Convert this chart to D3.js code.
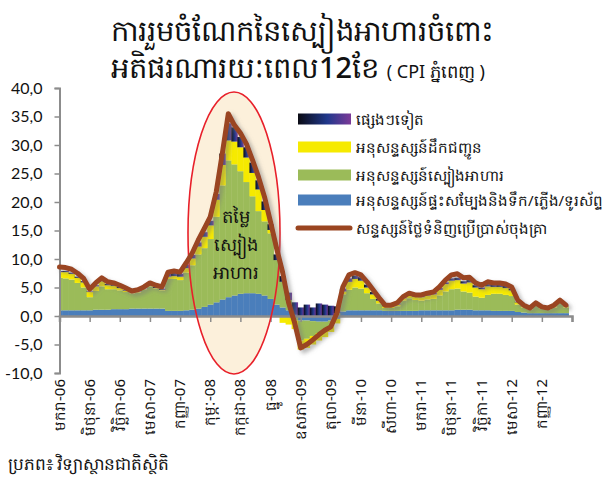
<!DOCTYPE html>
<html>
<head>
<meta charset="utf-8">
<script src="https://cdn.jsdelivr.net/npm/d3@7"></script>
<style>
  body { margin: 0; background: #fff; }
  svg { display: block; font-family: "Noto Sans", "DejaVu Sans", sans-serif; }
  .yAxis text { font-family: Lato, "Open Sans", sans-serif; }
</style>
</head>
<body>
<svg id="chart" width="603" height="482"></svg>
<script>
/*
  Food contribution to 12-month inflation (Phnom Penh CPI)
  stacked monthly contributions + headline line, Jan 2006 .. Jan 2013
*/

// x tick labels, one every 5 months starting Jan-06
const tickLabels = [
  'មករា-06', 'មិថុនា-06', 'វិច្ឆិកា-06', 'មេសា-07', 'កញ្ញា-07', 'កុម្ភៈ-08',
  'កក្កដា-08', 'ធ្នូ-08', 'ឧសភា-09', 'តុលា-09', 'មីនា-10', 'សីហា-10',
  'មករា-11', 'មិថុនា-11', 'វិច្ឆិកា-11', 'មេសា-12', 'កញ្ញា-12'
];

const yTicks = [40, 35, 30, 25, 20, 15, 10, 5, 0, -5, -10];

// headline CPI, 12 month change (%)
const headline = [
  8.6, 8.5, 8.2, 7.5, 6.6, 4.7, 5.8, 6.7, 6.0, 5.8, 5.4, 4.9,
  4.4, 4.6, 5.1, 5.8, 5.4, 5.1, 7.7, 7.9, 7.7, 9.3, 11.0, 13.3,
  15.3, 17.4, 21.8, 28.5, 35.5, 33.5, 32.1, 30.2, 27.4, 24.4, 20.9, 16.5,
  11.9, 7.7, 2.3, -1.2, -5.6, -5.0, -4.2, -3.3, -2.5, -1.9, 0.5, 5.1,
  7.2, 7.6, 7.2, 6.0, 4.6, 3.2, 1.9, 1.9, 2.3, 3.4, 4.0, 3.7,
  3.7, 4.0, 4.2, 5.1, 6.3, 7.2, 7.4, 6.7, 6.8, 5.8, 5.4, 6.0,
  5.8, 5.8, 5.6, 5.1, 2.8, 1.9, 1.4, 2.3, 1.6, 1.4, 1.9, 2.8, 1.9
];

// contribution of housing / water / electricity / telephone
const housing = [
  1.0, 1.0, 1.0, 1.0, 1.0, 1.0, 1.1, 1.1, 1.1, 1.2, 1.2, 1.2,
  1.3, 1.3, 1.3, 1.3, 1.3, 1.3, 0.9, 0.9, 0.9, 1.0, 1.1, 1.3,
  1.6, 2.0, 2.4, 2.9, 3.3, 3.6, 3.9, 4.0, 4.0, 3.9, 3.6, 3.0,
  2.0, 1.5, 1.0, 0.2, -0.8, -0.8, -0.9, -1.0, -1.0, -0.8, -0.5, 0.8,
  1.0, 1.0, 1.0, 1.0, 1.0, 1.0, 0.9, 0.9, 0.9, 0.9, 0.9, 0.9,
  1.0, 1.0, 1.0, 1.0, 1.0, 1.0, 1.1, 1.1, 1.1, 1.0, 1.0, 1.0,
  0.9, 0.9, 0.9, 0.9, 0.7, 0.6, 0.5, 0.5, 0.5, 0.5, 0.5, 0.5, 0.5
];

// contribution of food
const food = [
  5.7, 5.6, 5.4, 4.8, 4.0, 2.3, 3.3, 4.1, 3.6, 3.5, 3.3, 3.0,
  2.6, 2.8, 3.3, 3.9, 3.5, 3.2, 5.6, 5.6, 5.4, 6.6, 7.8, 9.5,
  10.3, 11.5, 15.0, 20.0, 24.0, 23.0, 21.5, 19.5, 17.0, 14.5, 13.0, 11.5,
  7.8, 4.5, 1.8, -0.8, -3.5, -3.2, -2.6, -2.0, -1.5, -1.0, 0.5, 3.0,
  3.6, 4.0, 3.8, 3.0, 2.0, 1.2, 0.5, 0.5, 0.8, 1.8, 2.2, 1.9,
  1.7, 1.9, 2.0, 2.6, 3.3, 3.7, 3.7, 3.2, 3.0, 2.4, 2.2, 2.7,
  3.0, 3.0, 2.8, 2.6, 1.3, 0.9, 0.6, 1.3, 0.8, 0.6, 1.0, 1.8, 1.0
];

// contribution of transport
const transport = [
  1.0, 1.1, 1.0, 0.9, 0.9, 0.9, 0.8, 0.9, 0.7, 0.6, 0.4, 0.2,
  0.1, 0.1, 0.1, 0.1, 0.1, 0.1, 0.4, 0.5, 0.6, 0.8, 1.2, 1.4,
  2.0, 2.4, 3.0, 3.6, 3.5, 4.0, 4.2, 4.3, 4.1, 3.8, 2.0, 0.6,
  0.0, -1.2, -1.5, -1.5, -1.6, -1.6, -1.5, -1.3, -1.2, -1.0, -0.8, 0.5,
  1.4, 1.5, 1.4, 1.0, 0.8, 0.5, 0.3, 0.3, 0.3, 0.4, 0.5, 0.6,
  0.6, 0.7, 0.8, 1.0, 1.3, 1.5, 1.5, 1.4, 1.8, 1.6, 1.5, 1.5,
  1.2, 1.2, 1.2, 1.0, 0.4, 0.2, 0.1, 0.2, 0.1, 0.1, 0.2, 0.2, 0.2
];

// contribution of all other items
const other = [
  0.2, 0.2, 0.2, 0.2, 0.2, 0.1, 0.2, 0.2, 0.2, 0.2, 0.2, 0.1,
  0.1, 0.1, 0.1, 0.2, 0.2, 0.2, 0.5, 0.6, 0.5, 0.6, 0.6, 0.7,
  0.8, 0.8, 1.0, 2.0, 3.0, 2.5, 1.8, 1.8, 1.8, 1.6, 1.5, 1.0,
  1.0, 1.0, 1.3, 2.2, 1.5, 2.0, 1.5, 2.2, 2.0, 1.8, 1.2, 0.5,
  0.6, 0.6, 0.6, 0.5, 0.4, 0.3, 0.2, 0.2, 0.2, 0.2, 0.3, 0.3,
  0.3, 0.3, 0.3, 0.3, 0.3, 0.4, 0.4, 0.4, 0.4, 0.4, 0.3, 0.4,
  0.4, 0.4, 0.4, 0.3, 0.1, 0.1, 0.1, 0.1, 0.1, 0.1, 0.1, 0.1, 0.1
];

const seriesKeys = ['housing', 'food', 'transport', 'other'];
const seriesColors = {
  housing: '#4a7ebb',
  food: '#9bbb59',
  transport: '#f6ea00',
  other: 'url(#otherGrad)'
};

const legendItems = [
  { label: 'ផ្សេងៗទៀត', fill: 'url(#otherGrad)' },
  { label: 'អនុសន្ទស្សន៍ដឹកជញ្ជូន', fill: seriesColors.transport },
  { label: 'អនុសន្ទស្សន៍ស្បៀងអាហារ', fill: seriesColors.food },
  { label: 'អនុសន្ទស្សន៍ផ្ទះសម្បែងនិងទឹក/ភ្លើង/ទូរស័ព្ទ', fill: seriesColors.housing },
  { label: 'សន្ទស្សន៍ថ្លៃទំនិញប្រើប្រាស់ចុងគ្រា', line: true }
];

const LINE_COLOR = '#9a4520';
const AXIS_COLOR = '#8c8c8c';

/**
 * Scales
 */
const scale = {};
scale.x = d3.scaleLinear().domain([0, 85]).range([59.5, 572]);
scale.y = d3.scaleLinear().domain([-10, 40]).range([373, 88]);

const svg = d3.select('#chart');
const defs = svg.append('defs');

// dark "other" fill, black -> navy -> purple like the legend swatch
const grad = defs.append('linearGradient')
  .attr('id', 'otherGrad')
  .attr('x1', 0).attr('x2', 1).attr('y1', 0).attr('y2', 0);
grad.append('stop').attr('offset', 0).attr('stop-color', '#0b0b14');
grad.append('stop').attr('offset', 0.55).attr('stop-color', '#20388c');
grad.append('stop').attr('offset', 1).attr('stop-color', '#7c3a98');

const shadow = defs.append('filter')
  .attr('id', 'shadow')
  .attr('x', '-10%').attr('y', '-10%')
  .attr('width', '130%').attr('height', '130%');
shadow.append('feDropShadow')
  .attr('dx', 3).attr('dy', 3)
  .attr('stdDeviation', 2)
  .attr('flood-color', '#777')
  .attr('flood-opacity', 0.55);

defs.append('clipPath').attr('id', 'plotClip')
  .append('rect')
  .attr('x', scale.x(0)).attr('y', 0)
  .attr('width', scale.x(84) - scale.x(0) + 3)
  .attr('height', 482);

/*
 * Title
 */
const title = svg.append('g').attr('text-anchor', 'middle').attr('fill', '#111');
title.append('text')
  .attr('x', 302).attr('y', 41)
  .style('font-size', '29px')
  .style('font-weight', 500)
  .text('ការរួមចំណែកនៃស្បៀងអាហារចំពោះ');
const t2 = title.append('text')
  .attr('x', 298).attr('y', 78)
  .style('font-size', '29px')
  .style('font-weight', 500);
t2.append('tspan').text('អតិផរណារយៈពេល12ខែ ');
t2.append('tspan').style('font-size', '18px').style('font-weight', 400).text('( CPI ភ្នំពេញ )');

/*
 * Highlight ellipse (fill behind the data)
 */
const ellipse = { cx: 234, cy: 233, rx: 46, ry: 141 };
svg.append('ellipse')
  .attr('cx', ellipse.cx).attr('cy', ellipse.cy)
  .attr('rx', ellipse.rx).attr('ry', ellipse.ry)
  .attr('fill', '#fcf0db');

/*
 * Stacked contributions, drawn as touching monthly columns
 */
const table = headline.map((h, i) => ({
  i,
  housing: housing[i],
  food: food[i],
  transport: transport[i],
  other: other[i]
}));

const stacked = d3.stack()
  .keys(seriesKeys)
  .offset(d3.stackOffsetDiverging)(table);

const colW = scale.x(1) - scale.x(0);
const body = svg.append('g').attr('clip-path', 'url(#plotClip)');

body.selectAll('g.series')
  .data(stacked)
  .join('g')
  .attr('class', 'series')
  .attr('fill', s => seriesColors[s.key])
  .selectAll('rect')
  .data(s => s)
  .join('rect')
  .attr('x', d => scale.x(d.data.i) - colW / 2)
  .attr('width', colW + 0.4)
  .attr('y', d => scale.y(Math.max(d[0], d[1])))
  .attr('height', d => Math.abs(scale.y(d[0]) - scale.y(d[1])));

/*
 * Axes
 */
const yAxis = svg.append('g')
  .attr('class', 'yAxis')
  .attr('transform', `translate(${scale.x(0)},0)`)
  .call(d3.axisLeft(scale.y)
    .tickValues(yTicks)
    .tickSize(5)
    .tickPadding(12)
    .tickFormat(d => d3.format('.1f')(d).replace('.', ',').replace('−', '-')));
yAxis.select('.domain').attr('stroke', AXIS_COLOR).attr('stroke-width', 2);
yAxis.selectAll('line').attr('stroke', AXIS_COLOR).attr('stroke-width', 1.5);
yAxis.selectAll('text').style('font-size', '16px').attr('fill', '#111');

const xTickIdx = d3.range(0, 86, 5);
const xAxis = svg.append('g')
  .attr('transform', `translate(0,${scale.y(0)})`)
  .call(d3.axisBottom(scale.x)
    .tickValues(xTickIdx)
    .tickSize(6)
    .tickFormat(''));
xAxis.select('.domain').attr('stroke', AXIS_COLOR).attr('stroke-width', 2.5);
xAxis.selectAll('line').attr('stroke', AXIS_COLOR).attr('stroke-width', 1.5);

svg.append('g')
  .selectAll('text')
  .data(tickLabels)
  .join('text')
  .attr('transform', (d, k) => `translate(${scale.x(k * 5) + 5},379) rotate(-90)`)
  .attr('text-anchor', 'end')
  .style('font-size', '15px')
  .attr('fill', '#111')
  .text(d => d);

/*
 * Ellipse outline and its label
 */
svg.append('ellipse')
  .attr('cx', ellipse.cx).attr('cy', ellipse.cy)
  .attr('rx', ellipse.rx).attr('ry', ellipse.ry)
  .attr('fill', 'none')
  .attr('stroke', '#e8202a')
  .attr('stroke-width', 1.6);

svg.append('g')
  .attr('text-anchor', 'middle')
  .attr('fill', '#111')
  .style('font-size', '18px')
  .selectAll('text')
  .data(['តម្លៃ', 'ស្បៀង', 'អាហារ'])
  .join('text')
  .attr('x', 236)
  .attr('y', (d, k) => 223 + k * 28)
  .text(d => d);

/*
 * Headline CPI line
 */
const line = d3.line()
  .x((d, i) => scale.x(i))
  .y(d => scale.y(d));

svg.append('path')
  .datum(headline)
  .attr('d', line)
  .attr('fill', 'none')
  .attr('stroke', LINE_COLOR)
  .attr('stroke-width', 5)
  .attr('stroke-linejoin', 'round')
  .attr('stroke-linecap', 'round')
  .attr('filter', 'url(#shadow)');

/*
 * Legend
 */
const legend = svg.append('g').attr('transform', 'translate(298,119)');
const rows = legend.selectAll('g')
  .data(legendItems)
  .join('g')
  .attr('transform', (d, k) => `translate(0,${[0, 28, 56, 81, 109][k]})`);

rows.filter(d => !d.line)
  .append('rect')
  .attr('x', 0).attr('y', -5.5)
  .attr('width', 53).attr('height', 11)
  .attr('fill', d => d.fill);

rows.filter(d => d.line)
  .append('line')
  .attr('x1', 0).attr('x2', 52)
  .attr('stroke', LINE_COLOR)
  .attr('stroke-width', 5)
  .attr('stroke-linecap', 'round');

rows.append('text')
  .attr('x', 58).attr('y', 6)
  .style('font-size', '15px')
  .attr('fill', '#111')
  .text(d => d.label);

/*
 * Source
 */
svg.append('text')
  .attr('x', 8).attr('y', 470)
  .style('font-size', '17px')
  .attr('fill', '#111')
  .text('ប្រភព៖ វិទ្យាស្ថានជាតិស្ថិតិ');
</script>
</body>
</html>
